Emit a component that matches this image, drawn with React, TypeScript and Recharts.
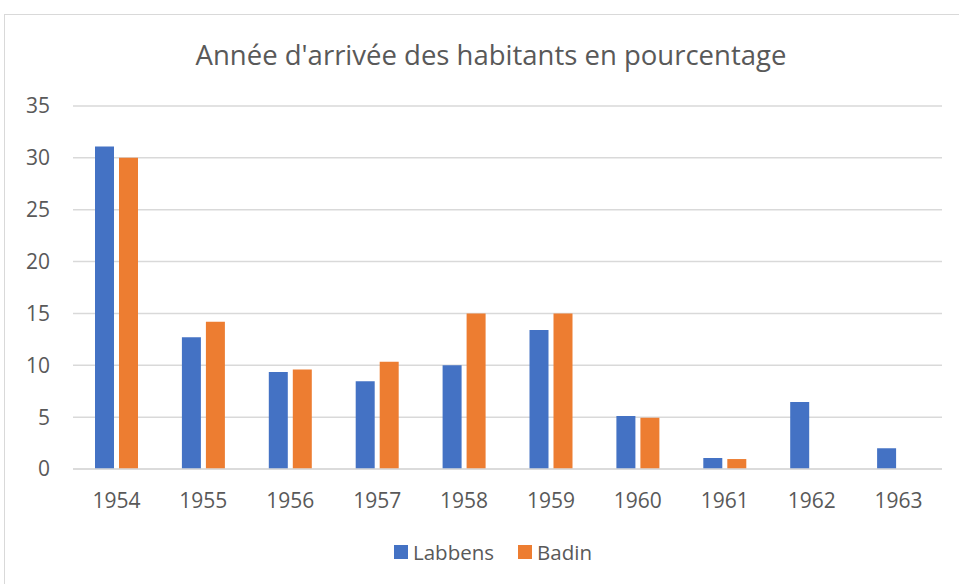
import { Bar, BarChart, CartesianGrid, Legend, XAxis, YAxis } from "recharts";

const years = ["1954", "1955", "1956", "1957", "1958", "1959", "1960", "1961", "1962", "1963"];
const labbens = [31.1, 12.7, 9.35, 8.45, 10, 13.4, 5.1, 1.06, 6.46, 2.0];
const badin = [30, 14.2, 9.6, 10.35, 15, 15, 4.95, 0.96, 0, 0];
const yTicks = [0, 5, 10, 15, 20, 25, 30, 35];
const series = [
  { key: "Labbens", color: "#4472c4" },
  { key: "Badin", color: "#ed7d31" },
];

const data = years.map((year, i) => ({ year, Labbens: labbens[i], Badin: badin[i] }));

const FONT = "'Open Sans', sans-serif";
const TEXT = "#595959";

function LegendContent() {
  return (
    <div style={{ display: "flex", justifyContent: "center", gap: 24, fontSize: 20.5, color: TEXT, fontFamily: FONT }}>
      {series.map((s) => (
        <div key={s.key} style={{ display: "flex", alignItems: "center", gap: 5 }}>
          <span style={{ width: 14, height: 14, background: s.color, display: "inline-block" }} />
          <span>{s.key}</span>
        </div>
      ))}
    </div>
  );
}

export default function App() {
  return (
    <div style={{ position: "absolute", left: 0, top: 0, width: 959, height: 584, overflow: "hidden", background: "#fff", fontFamily: FONT }}>
      <div
        style={{
          position: "absolute",
          left: 4,
          top: 14,
          width: 980,
          height: 600,
          border: "1px solid #d9d9d9",
        }}
      />
      <div
        style={{
          position: "absolute",
          left: 0,
          top: 36,
          width: 982,
          textAlign: "center",
          fontSize: 27.5,
          color: TEXT,
        }}
      >
        Année d'arrivée des habitants en pourcentage
      </div>
      <div style={{ position: "absolute", left: 0, top: 0 }}>
        <BarChart
          width={959}
          height={584}
          data={data}
          margin={{ top: 106, right: 17, left: 0, bottom: 70 }}
          barGap={5}
          barSize={19}
        >
          <CartesianGrid vertical={false} stroke="#d9d9d9" strokeWidth={1.5} />
          <XAxis
            dataKey="year"
            axisLine={{ stroke: "#d9d9d9", strokeWidth: 1.5 }}
            tickLine={false}
            tickSize={0}
            tickMargin={24}
            height={45}
            tick={{ fill: TEXT, fontSize: 21, fontFamily: FONT }}
          />
          <YAxis
            width={73}
            domain={[0, 35]}
            ticks={yTicks}
            axisLine={false}
            tickLine={false}
            tickSize={0}
            tickMargin={23}
            tick={{ fill: TEXT, fontSize: 21, fontFamily: FONT }}
          />
          <Legend
            layout="horizontal"
            align="center"
            verticalAlign="middle"
            content={<LegendContent />}
            wrapperStyle={{ top: 538, left: 0, width: 986 }}
          />
          {series.map((s) => (
            <Bar key={s.key} dataKey={s.key} fill={s.color} isAnimationActive={false} />
          ))}
        </BarChart>
      </div>
    </div>
  );
}
